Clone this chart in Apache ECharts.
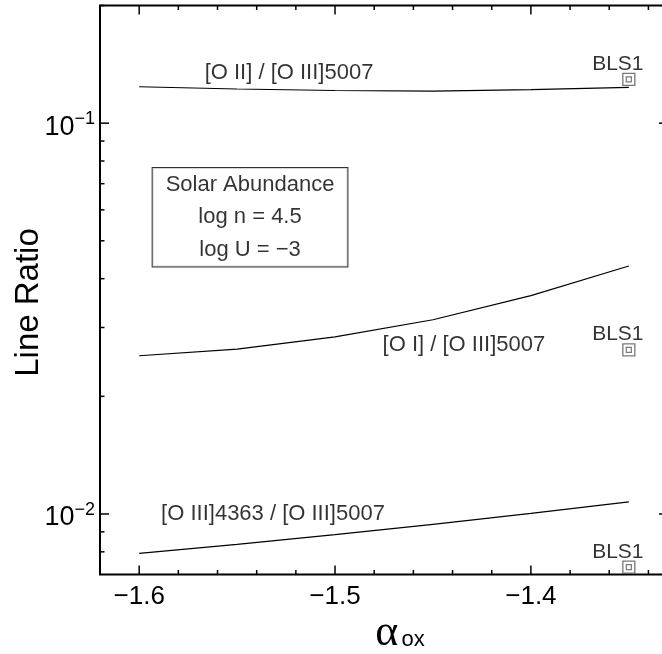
<!DOCTYPE html>
<html><head><meta charset="utf-8">
<script src="https://cdn.jsdelivr.net/npm/echarts@6/dist/echarts.min.js"></script>
<style>html,body{margin:0;padding:0;background:#fff;}#c{width:662px;height:654px;}</style>
</head><body><div id="c"></div>
<script>
// ---- data ----
const alphaOx = [-1.6, -1.55, -1.5, -1.45, -1.4, -1.35];
const oiiRatio = [0.1239, 0.1223, 0.1212, 0.1208, 0.1218, 0.1234];
const oiRatio = [0.0254, 0.0264, 0.0284, 0.0314, 0.0362, 0.0431];
const oiii4363Ratio = [0.00793, 0.00836, 0.00885, 0.00941, 0.01004, 0.01074];
const blsX = [-1.35, -1.35, -1.35];
const blsY = [0.1294, 0.0263, 0.00731];
const xMajorTicks = [-1.6, -1.5, -1.4];
const xMinorTicks = [-1.58, -1.56, -1.54, -1.52, -1.48, -1.46, -1.44, -1.42, -1.38, -1.36, -1.34];
const yMajorTicks = [0.01, 0.1];
const yMinorTicks = [0.008, 0.009, 0.02, 0.03, 0.04, 0.05, 0.06, 0.07, 0.08, 0.09, 0.2];

const X_MIN = -1.62, X_MAX = -1.33, Y_MIN = 0.007, Y_MAX = 0.2;
const FONT = "'Liberation Sans', Arial, Helvetica, sans-serif";

const tickData = [];
xMajorTicks.forEach(v => tickData.push([v, Y_MIN, 0]));
xMinorTicks.forEach(v => tickData.push([v, Y_MIN, 1]));
yMajorTicks.forEach(v => tickData.push([X_MIN, v, 2]));
yMinorTicks.forEach(v => tickData.push([X_MIN, v, 3]));

function renderTick(params, api) {
  const kind = api.value(2);
  const style = {stroke: '#000', lineWidth: 1.5};
  const ch = [];
  if (kind < 2) {
    const v = api.value(0);
    const len = kind === 0 ? 9 : 4.5;
    const b = api.coord([v, Y_MIN]), t = api.coord([v, Y_MAX]);
    ch.push({type: 'line', shape: {x1: b[0], y1: b[1], x2: b[0], y2: b[1] - len}, style});
    ch.push({type: 'line', shape: {x1: t[0], y1: t[1], x2: t[0], y2: t[1] + len}, style});
  } else {
    const v = api.value(1);
    const len = kind === 2 ? 9 : 4.5;
    const l = api.coord([X_MIN, v]), r = api.coord([X_MAX, v]);
    ch.push({type: 'line', shape: {x1: l[0], y1: l[1], x2: l[0] + len, y2: l[1]}, style});
    ch.push({type: 'line', shape: {x1: r[0], y1: r[1], x2: r[0] - len, y2: r[1]}, style});
  }
  return {type: 'group', children: ch};
}

const pair = (xs, ys) => xs.map((x, i) => [x, ys[i]]);
const lineStyle = {color: '#000', width: 1.2};
const noteLabel = {show: true, position: 'inside', fontSize: 22, fontFamily: FONT, color: '#000'};

const chart = echarts.init(document.getElementById('c'), null, {renderer: 'canvas'});
chart.setOption({
  animation: false,
  backgroundColor: '#fff',
  grid: {left: 100, top: 5.5, width: 568, height: 569, outerBoundsMode: 'none', containLabel: false,
    show: true, borderColor: '#000', borderWidth: 2, backgroundColor: 'transparent'},
  xAxis: {
    type: 'value', min: X_MIN, max: X_MAX, interval: 0.02,
    axisLine: {show: false}, axisTick: {show: false}, splitLine: {show: false},
    axisLabel: {
      interval: 0, margin: 9, fontSize: 26, fontFamily: FONT, color: '#000', hideOverlap: false,
      formatter: v => Math.abs(v * 10 - Math.round(v * 10)) > 1e-6 ? '' : (v < 0 ? '−' : '') + Math.abs(v).toFixed(1)
    },
    name: '{a|α}{s|ox}', nameLocation: 'middle', nameGap: 37, nameMoveOverlap: false,
    nameTextStyle: {
      padding: [0, 0, 0, 32],
      rich: {
        a: {fontSize: 44, fontFamily: "'Liberation Serif', 'DejaVu Serif', serif", color: '#000', lineHeight: 44},
        s: {fontSize: 22, fontFamily: FONT, color: '#000', verticalAlign: 'bottom', padding: [0, 0, 5, 3]}
      }
    }
  },
  yAxis: {
    type: 'log', logBase: 10, min: Y_MIN, max: Y_MAX,
    axisLine: {show: false}, axisTick: {show: false}, splitLine: {show: false}, minorTick: {show: false},
    axisLabel: {
      margin: 5, hideOverlap: false, padding: [8, 0, 0, 0],
      formatter: v => {
        const e = Math.log10(v), r = Math.round(e);
        if (Math.abs(e - r) > 1e-6) return '';
        return '{b|10}{s|' + (r < 0 ? '−' : '') + Math.abs(r) + '}';
      },
      rich: {
        b: {fontSize: 27, fontFamily: FONT, color: '#000', lineHeight: 34},
        s: {fontSize: 18, fontFamily: FONT, color: '#000', verticalAlign: 'top', lineHeight: 18}
      }
    },
    name: 'Line Ratio', nameLocation: 'middle', nameGap: 55, nameMoveOverlap: false,
    nameTextStyle: {fontSize: 33, fontFamily: FONT, color: '#000', padding: [0, 25, 0, 0]}
  },
  series: [
    {type: 'line', name: '[O II] / [O III]5007', data: pair(alphaOx, oiiRatio), symbol: 'none', lineStyle, z: 3},
    {type: 'line', name: '[O I] / [O III]5007', data: pair(alphaOx, oiRatio), symbol: 'none', lineStyle, z: 3},
    {type: 'line', name: '[O III]4363 / [O III]5007', data: pair(alphaOx, oiii4363Ratio), symbol: 'none', lineStyle, z: 3},
    {type: 'scatter', name: 'BLS1', data: pair(blsX, blsY), symbol: 'rect', symbolSize: 12, z: 4,
      itemStyle: {color: 'rgba(0,0,0,0)', borderColor: '#555', borderWidth: 1.3},
      label: {show: true, formatter: 'BLS1', position: 'top', distance: 0, offset: [-11, 2], fontSize: 21, fontFamily: FONT, color: '#000'}},
    {type: 'scatter', name: 'BLS1 inner', data: pair(blsX, blsY), symbol: 'rect', symbolSize: 5, z: 4,
      itemStyle: {color: 'rgba(0,0,0,0)', borderColor: '#555', borderWidth: 1.2}},
    {type: 'scatter', name: 'notes', symbolSize: 0, silent: true, z: 5, label: noteLabel,
      data: [
        {value: [-1.5235, 0.1343], label: {formatter: '[O II] / [O III]5007'}},
        {value: [-1.4342, 0.0271], label: {formatter: '[O I] / [O III]5007'}},
        {value: [-1.5888, 0.01003], label: {formatter: '[O III]4363 / [O III]5007', align: 'left'}},
        {value: [-1.5434, 0.0574], label: {
          formatter: 'Solar Abundance\nlog n = 4.5\nlog U = −3', lineHeight: 32.5,
          borderColor: '#000', borderWidth: 1, padding: [1, 13, 0, 13], backgroundColor: '#fff'}}
      ]},
    {type: 'custom', name: 'ticks', data: tickData, renderItem: renderTick, silent: true, z: 6,
      encode: {x: 0, y: 1}}
  ]
});
</script></body></html>
